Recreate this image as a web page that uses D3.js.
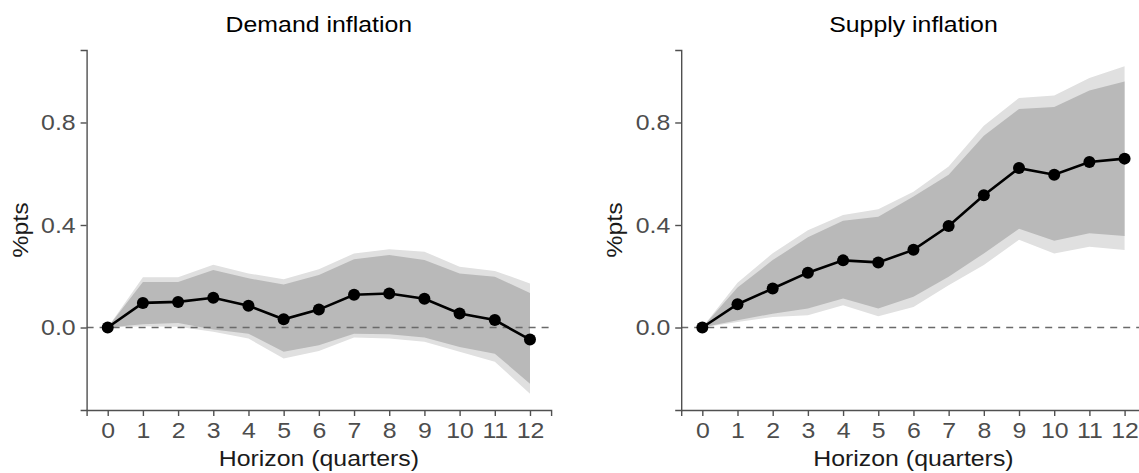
<!DOCTYPE html>
<html>
<head>
<meta charset="utf-8">
<script src="https://cdn.jsdelivr.net/npm/d3@7/dist/d3.min.js"></script>
<style>
  html, body { margin: 0; padding: 0; background: #ffffff; }
  svg { display: block; }
  text { font-family: "Liberation Sans", Arial, Helvetica, sans-serif; }
</style>
</head>
<body>
<svg id="chart" width="1139" height="473"></svg>
<script>
// Impulse responses: median path with 68% (inner) and 90% (outer) bands
const horizons = [0, 1, 2, 3, 4, 5, 6, 7, 8, 9, 10, 11, 12];
const yTicks = [0.0, 0.4, 0.8];
const panelTitles = ["Demand inflation", "Supply inflation"];
const xTitle = "Horizon (quarters)";
const yTitle = "%pts";

const demandMedian  = [0, 0.096, 0.100, 0.116, 0.085, 0.032, 0.070, 0.128, 0.133, 0.112, 0.055, 0.029, -0.047];
const demandInnerHi = [0, 0.178, 0.178, 0.224, 0.192, 0.168, 0.205, 0.266, 0.283, 0.263, 0.211, 0.198, 0.135];
const demandInnerLo = [0, 0.013, 0.018, -0.008, -0.024, -0.095, -0.069, -0.024, -0.026, -0.039, -0.076, -0.102, -0.219];
const demandOuterHi = [0, 0.196, 0.196, 0.245, 0.211, 0.188, 0.227, 0.289, 0.305, 0.296, 0.237, 0.221, 0.172];
const demandOuterLo = [0, 0.005, 0.003, -0.017, -0.043, -0.121, -0.092, -0.039, -0.043, -0.056, -0.095, -0.134, -0.258];

const supplyMedian  = [0, 0.091, 0.152, 0.214, 0.262, 0.254, 0.303, 0.396, 0.516, 0.622, 0.596, 0.646, 0.659];
const supplyInnerHi = [0, 0.156, 0.263, 0.352, 0.417, 0.432, 0.511, 0.596, 0.748, 0.853, 0.860, 0.925, 0.960];
const supplyInnerLo = [0, 0.028, 0.054, 0.074, 0.113, 0.074, 0.120, 0.198, 0.289, 0.385, 0.339, 0.368, 0.357];
const supplyOuterHi = [0, 0.175, 0.290, 0.380, 0.439, 0.461, 0.530, 0.628, 0.787, 0.896, 0.905, 0.974, 1.019];
const supplyOuterLo = [0, 0.022, 0.041, 0.048, 0.087, 0.044, 0.080, 0.165, 0.244, 0.342, 0.289, 0.315, 0.302];

const panels = [
  { title: panelTitles[0], median: demandMedian, innerHi: demandInnerHi, innerLo: demandInnerLo, outerHi: demandOuterHi, outerLo: demandOuterLo, x0: 86.6, x1: 551.1 },
  { title: panelTitles[1], median: supplyMedian, innerHi: supplyInnerHi, innerLo: supplyInnerLo, outerHi: supplyOuterHi, outerLo: supplyOuterLo, x0: 681.2, x1: 1145.7 }
];

const svg = d3.select("#chart");
const plotTop = 50, plotBottom = 410;

// shared y range, padded 5% beyond the widest band
const allVals = panels.flatMap(p => [...p.outerHi, ...p.outerLo]);
const yMin = d3.min(allVals), yMax = d3.max(allVals);
const yPad = (yMax - yMin) * 0.05;
const y = d3.scaleLinear().domain([yMin - yPad, yMax + yPad]).range([plotBottom, plotTop]);

const axisColor = "#505050";
const tickTextColor = "#4d4d4d";
const fontSize = 22;
const stretch = 1.13;   // wide letterforms

// text placed at (x, y), widened along its reading direction
function label(parent, x, y, str, opts = {}) {
  const rot = opts.rotate || 0;
  return parent.append("text")
    .attr("transform", `translate(${x},${y}) rotate(${rot}) scale(${stretch},1)`)
    .attr("text-anchor", opts.anchor || "middle")
    .attr("fill", opts.fill || "#000")
    .style("font-size", fontSize + "px")
    .text(str);
}

panels.forEach(p => {
  const xPad = (d3.max(horizons) - d3.min(horizons)) * 0.05;
  const x = d3.scaleLinear()
    .domain([d3.min(horizons) - xPad, d3.max(horizons) + xPad])
    .range([p.x0, p.x1]);

  const g = svg.append("g");
  const rows = horizons.map((h, i) => ({
    h, m: p.median[i], ih: p.innerHi[i], il: p.innerLo[i], oh: p.outerHi[i], ol: p.outerLo[i]
  }));

  // outer band
  g.append("path")
    .datum(rows)
    .attr("fill", "#e0e0e0")
    .attr("d", d3.area().x(d => x(d.h)).y0(d => y(d.ol)).y1(d => y(d.oh)));

  // inner band
  g.append("path")
    .datum(rows)
    .attr("fill", "#b9b9b9")
    .attr("d", d3.area().x(d => x(d.h)).y0(d => y(d.il)).y1(d => y(d.ih)));

  // zero reference
  g.append("line")
    .attr("x1", p.x0).attr("x2", p.x1)
    .attr("y1", y(0)).attr("y2", y(0))
    .attr("stroke", "#6a6a6a")
    .attr("stroke-width", 1.5)
    .attr("stroke-dasharray", "7,6");

  // median path and points
  g.append("path")
    .datum(rows)
    .attr("fill", "none")
    .attr("stroke", "#000")
    .attr("stroke-width", 2.6)
    .attr("d", d3.line().x(d => x(d.h)).y(d => y(d.m)));

  g.selectAll("circle.pt")
    .data(rows)
    .join("circle")
    .attr("class", "pt")
    .attr("cx", d => x(d.h))
    .attr("cy", d => y(d.m))
    .attr("r", 6)
    .attr("fill", "#000");

  // x axis
  const xAxis = g.append("g")
    .attr("transform", `translate(0,${plotBottom})`)
    .call(d3.axisBottom(x).tickValues(horizons).tickFormat(d3.format("d")).tickSizeOuter(0).tickSize(6).tickPadding(6));
  // y axis
  const yAxis = g.append("g")
    .attr("transform", `translate(${p.x0},0)`)
    .call(d3.axisLeft(y).tickValues(yTicks).tickFormat(d3.format(".1f")).tickSizeOuter(0).tickSize(6).tickPadding(5));

  [xAxis, yAxis].forEach(a => {
    a.select(".domain").attr("stroke", axisColor).attr("stroke-width", 1.4);
    a.selectAll(".tick line").attr("stroke", axisColor).attr("stroke-width", 1.4);
    a.selectAll(".tick text")
      .attr("fill", tickTextColor)
      .style("font-size", fontSize + "px")
      .style("font-family", '"Liberation Sans", Arial, sans-serif');
  });
  // widen tick labels about their anchor
  xAxis.selectAll(".tick text").attr("transform", `scale(${stretch},1)`);
  yAxis.selectAll(".tick text")
    .attr("x", -11 / stretch)
    .attr("transform", `scale(${stretch},1)`);

  // panel title
  label(g, (p.x0 + p.x1) / 2, 32, p.title);

  // axis titles
  label(g, (p.x0 + p.x1) / 2, 466, xTitle, { fill: "#1a1a1a" });
  label(g, p.x0 - 59, (plotTop + plotBottom) / 2, yTitle, { fill: "#1a1a1a", rotate: -90 });
});
</script>
</body>
</html>
